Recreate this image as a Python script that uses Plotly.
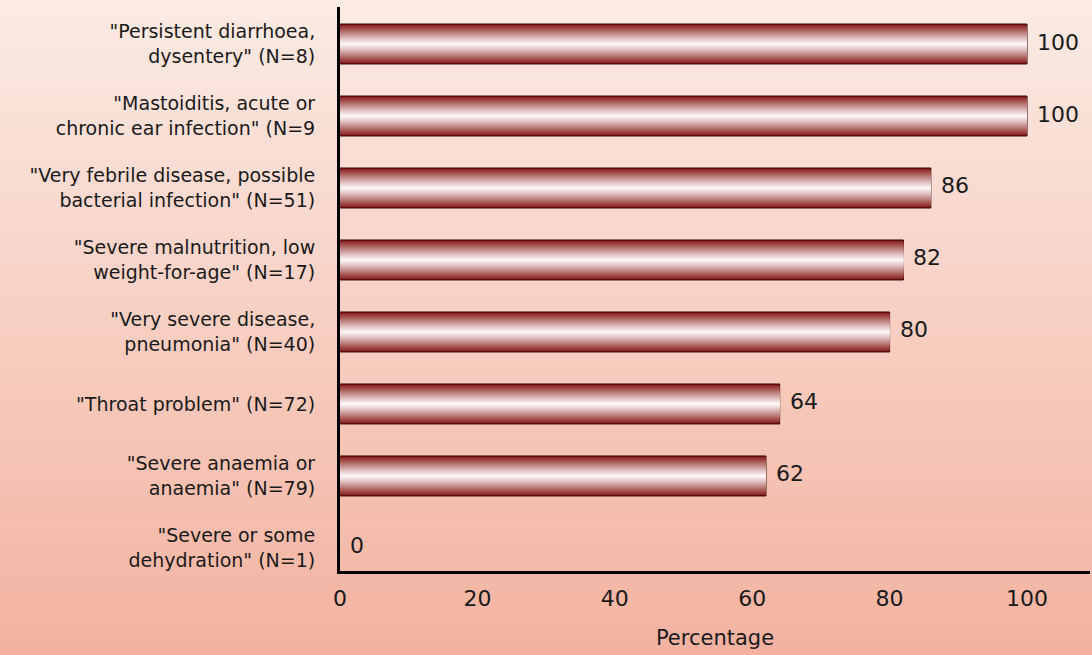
import plotly.graph_objects as go

categories = [
    '"Persistent diarrhoea,<br>dysentery" (N=8)',
    '"Mastoiditis, acute or<br>chronic ear infection" (N=9',
    '"Very febrile disease, possible<br>bacterial infection" (N=51)',
    '"Severe malnutrition, low<br>weight-for-age" (N=17)',
    '"Very severe disease,<br>pneumonia" (N=40)',
    '"Throat problem" (N=72)',
    '"Severe anaemia or<br>anaemia" (N=79)',
    '"Severe or some<br>dehydration" (N=1)',
]
values = [100, 100, 86, 82, 80, 64, 62, 0]
tick_vals = [0, 20, 40, 60, 80, 100]

W, H = 1092, 655
ML, MR, MT, MB = 340, 2, 7, 84
FONT = "DejaVu Sans"

fig = go.Figure()

# gradient bars simulated by overlaid bars of decreasing thickness
N = 20
full_w = 0.555
dark = (135, 25, 25)
light = (255, 252, 252)
for k in range(N):
    t = 1 - k / N
    f = t ** 1.1
    c = tuple(int(round(light[i] + (dark[i] - light[i]) * f)) for i in range(3))
    outline = [1 if (k == 0 and v > 0) else 0 for v in values]
    fig.add_trace(go.Bar(
        x=values, y=categories, orientation="h",
        width=full_w * t,
        marker=dict(color="rgb(%d,%d,%d)" % c,
                    line=dict(color="#2a0505", width=outline)),
        hoverinfo="skip" if k else None,
        showlegend=False,
    ))

annotations = [
    dict(x=v, y=c, xref="x", yref="y", text=str(v), showarrow=False,
         xanchor="left", yanchor="middle", xshift=8, yshift=2,
         font=dict(size=22, color="#1a1a1a", family=FONT))
    for v, c in zip(values, categories)
]

# background gradient
shapes = []
ns = 66
plot_h = H - MT - MB
top_c = (251, 235, 228)
bot_c = (243, 178, 160)
for i in range(ns):
    y0px = i * H / ns
    y1px = (i + 1) * H / ns + 1
    fr = (i + 0.5) / ns
    c = tuple(int(round(top_c[j] + (bot_c[j] - top_c[j]) * fr)) for j in range(3))
    p0 = 1 - (y0px - MT) / plot_h
    p1 = 1 - (y1px - MT) / plot_h
    shapes.append(dict(type="rect", xref="paper", yref="paper",
                       x0=-ML / (W - ML - MR) - 0.01, x1=1 + 0.05,
                       y0=p1, y1=p0, fillcolor="rgb(%d,%d,%d)" % c,
                       line=dict(width=0), layer="below"))

plot_w = W - ML - MR
xmax = plot_w / 6.87

fig.update_layout(
    width=W, height=H,
    margin=dict(l=ML, r=MR, t=MT, b=MB),
    barmode="overlay",
    paper_bgcolor="#f7cdbf",
    plot_bgcolor="rgba(0,0,0,0)",
    shapes=shapes,
    annotations=annotations,
    font=dict(family=FONT, color="#1a1a1a"),
    xaxis=dict(range=[0, xmax], tickvals=tick_vals, showgrid=False, zeroline=False,
               showline=True, linecolor="black", linewidth=3,
               ticks="", tickfont=dict(size=22, family=FONT),
               ticklabelstandoff=6,
               title=dict(text="Percentage", font=dict(size=21, family=FONT), standoff=20)),
    yaxis=dict(type="category", categoryorder="array", categoryarray=categories,
               range=[7.32, -0.514], showgrid=False, zeroline=False,
               showline=True, linecolor="black", linewidth=3, ticks="",
               tickfont=dict(size=19, family=FONT), ticklabelstandoff=18),
)

fig.write_html("out.html", config={"displayModeBar": False},
               post_script="document.body.style.margin='0';document.body.style.overflow='hidden';")
